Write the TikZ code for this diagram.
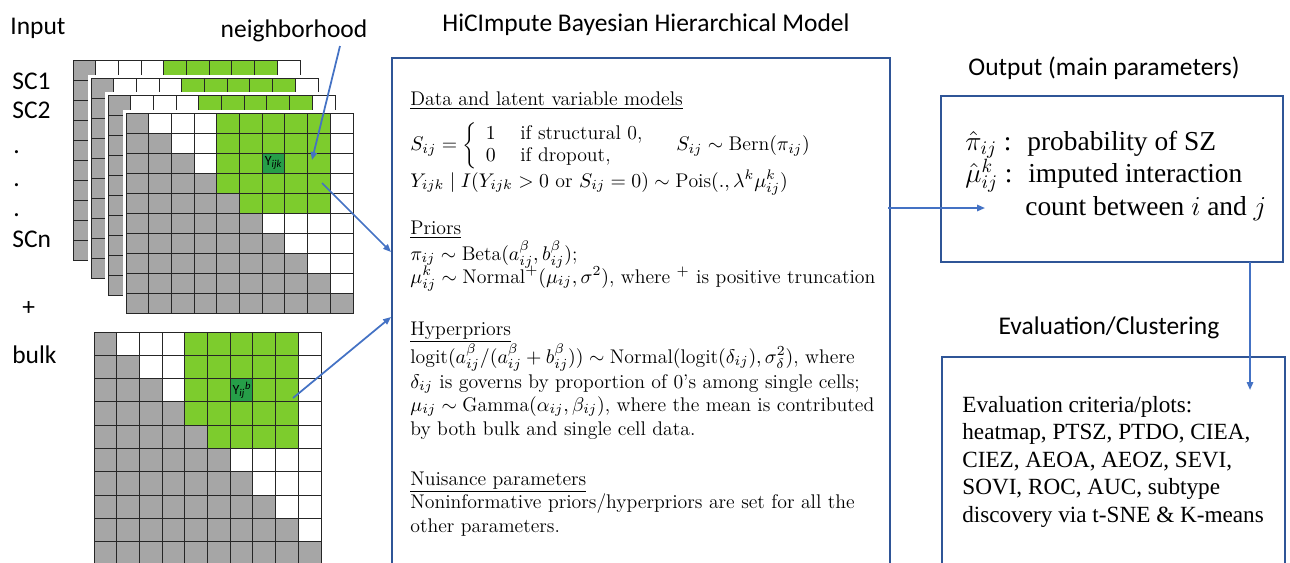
\RequirePackage{fix-cm}
\documentclass[tikz,border=0pt]{standalone}
\usepackage{amsmath}
\usepackage{fontspec}
\usetikzlibrary{arrows.meta,fit}
\newfontfamily\calibri{Carlito}
\newfontfamily\timesfont{Liberation Serif}

\definecolor{boxblue}{RGB}{47,85,151}
\definecolor{arrblue}{RGB}{68,114,196}
\definecolor{cell0}{RGB}{255,255,255}
\definecolor{cell1}{RGB}{166,166,166}
\definecolor{cell2}{RGB}{125,204,45}
\definecolor{cell3}{RGB}{38,158,72}

% one 10x10 contact map: #1,#2 = top left corner, #3 = row height
\newcommand\hicmap[3]{%
  \fill[white] (#1-3,#2-3) rectangle (#1+230,#2+10*#3+3);
  \foreach \r in {0,...,9}
    \foreach \c in {0,...,9}{
      \pgfmathtruncatemacro\k{\c<=\r ? 1 : ((\r<=4 && \c>=4 && \c<=8) ? ((\r==2 && \c==6) ? 3 : 2) : 0)}
      \filldraw[fill=cell\k, draw=black!85, line width=0.5pt]
        (#1+\c*22.7,#2+\r*#3) rectangle ++(22.7,#3);
    }
}

\begin{document}
\begin{tikzpicture}[x=0.02cm, y=-0.02cm,
  lbl/.style={inner sep=0, anchor=base west, font={\calibri\fontsize{14.5}{17}\selectfont}},
  ttl/.style={inner sep=0, anchor=base, font={\calibri\fontsize{14.5}{17}\selectfont}},
  eq/.style={inner sep=0, anchor=base west, font=\fontsize{11.25}{13}\selectfont},
  serif/.style={inner sep=0, anchor=base west, font={\timesfont\fontsize{13.2}{15.6}\selectfont}},
  bigserif/.style={inner sep=0, anchor=base west, font={\timesfont\fontsize{15.6}{18}\selectfont}},
  cellname/.style={inner sep=0, font={\calibri\fontsize{8}{9}\selectfont}},
  box/.style={draw=boxblue, line width=1.3pt, inner sep=0},
  arr/.style={-{Triangle[length=4.5pt,width=3.6pt]}, draw=arrblue, line width=1pt}]
  \useasboundingbox (0,0) rectangle (1290,562);
  \clip (0,0) rectangle (1290,562);

  % single cell maps, back to front, then bulk
  \hicmap{73}{60}{20}
  \hicmap{91}{78}{20}
  \hicmap{108}{95}{20}
  \hicmap{126}{113}{20}
  \hicmap{94}{332}{23.3}
  \node[cellname] (yijk) at (273.5,163) {Y\textsubscript{\itshape ijk}};
  \node[cellname] (yb) at (242,390) {Y\textsubscript{\itshape ij}\textsuperscript{\itshape b}};

  \node[lbl] (input) at (10,34.5) {Input};
  \node[lbl] (sc1) at (12,89) {SC1};
  \node[lbl] (sc2) at (12,118) {SC2};
  \node[lbl] (dot1) at (13,153) {.};
  \node[lbl] (dot2) at (13,186) {.};
  \node[lbl] (dot3) at (13,216) {.};
  \node[lbl] (scn) at (12,247) {SCn};
  \node[lbl] (plus) at (22,315) {+};
  \node[lbl] (bulk) at (12,363) {bulk};
  \node[ttl] (nb) at (294,37) {neighborhood};
  \node[ttl] (title) at (646,31) {HiCImpute Bayesian Hierarchical Model};
  \node[ttl] (outttl) at (1104,75) {Output (main parameters)};
  \node[ttl] (evalttl) at (1109,334) {Evaluation/Clustering};

  % boxes
  \node[box, fit={(392,58) (890,620)}] (model) {};
  \node[box, fit={(941,96) (1283,262)}] (outbox) {};
  \node[box, fit={(942,357) (1285,620)}] (evalbox) {};

  % model
  \node[eq] (h1) at (410,105) {\underline{Data and latent variable models}};
  \node[eq, anchor=west] (sdef) at (410,146) {$S_{ij}=\left\{\begin{array}{l@{\hspace{14pt}}l}1 & \text{if structural 0,}\\ 0 & \text{if dropout,}\end{array}\right.\quad S_{ij}\sim\mathrm{Bern}(\pi_{ij})$};
  \node[eq] (ydef) at (410,187) {$Y_{ijk}\mid I(Y_{ijk}>0\text{ or }S_{ij}=0)\sim\mathrm{Pois}(.,\lambda^k\mu^k_{ij})$};
  \node[eq] (h2) at (410,234) {\underline{Priors}};
  \node[eq] (pri1) at (410,260) {$\pi_{ij}\sim\mathrm{Beta}(a^\beta_{ij},b^\beta_{ij})$;};
  \node[eq] (pri2) at (410,283) {$\mu^k_{ij}\sim\mathrm{Normal}^+(\mu_{ij},\sigma^2)$, where $^+$ is positive truncation};
  \node[eq] (h3) at (410,335) {\underline{Hyperpriors}};
  \node[eq] (hyp1) at (410,363) {$\mathrm{logit}(a^\beta_{ij}/(a^\beta_{ij}+b^\beta_{ij}))\sim\mathrm{Normal}(\mathrm{logit}(\delta_{ij}),\sigma^2_\delta)$, where};
  \node[eq] (hyp2) at (410,388) {$\delta_{ij}$ is governs by proportion of 0's among single cells;};
  \node[eq] (hyp3) at (410,411) {$\mu_{ij}\sim\mathrm{Gamma}(\alpha_{ij},\beta_{ij})$, where the mean is contributed};
  \node[eq] (hyp4) at (410,435) {by both bulk and single cell data.};
  \node[eq] (h4) at (410,485) {\underline{Nuisance parameters}};
  \node[eq] (nui1) at (410,508) {Noninformative priors/hyperpriors are set for all the};
  \node[eq] (nui2) at (410,532) {other parameters.};

  % output
  \node[bigserif] (pihat) at (965,150) {$\hat{\pi}_{ij}$ :};
  \node[bigserif] (pitxt) at (1027,150) {probability of SZ};
  \node[bigserif] (muhat) at (965,182) {$\hat{\mu}^k_{ij}$ :};
  \node[bigserif] (mutxt) at (1028,182) {imputed interaction};
  \node[bigserif] (mutxt2) at (1025,215) {count between $i$ and $j$};

  % evaluation
  \foreach \t [count=\i from 0] in {{Evaluation criteria/plots:}, {heatmap, PTSZ, PTDO, CIEA,},
      {CIEZ, AEOA, AEOZ, SEVI,}, {SOVI, ROC, AUC, subtype}, {discovery via t-SNE \& K-means}}
    \node[serif] (ev\i) at (962,412+27.5*\i) {\t};

  % arrows
  \coordinate (nbfoot) at (340,46);
  \coordinate (nbtip) at (312,160);
  \coordinate (scout) at (322,183);
  \coordinate (scin) at (391,252);
  \coordinate (bkout) at (293,398);
  \coordinate (bkin) at (391,317);
  \coordinate (mdout) at (888,208);
  \coordinate (mdin) at (985,208);
  \coordinate (otout) at (1250,262);
  \coordinate (evin) at (1250,390);
  \draw[arr] (nbfoot) -- (nbtip);
  \draw[arr] (scout) -- (scin);
  \draw[arr] (bkout) -- (bkin);
  \draw[arr] (mdout) -- (mdin);
  \draw[arr] (otout) -- (evin);
\end{tikzpicture}
\end{document}
